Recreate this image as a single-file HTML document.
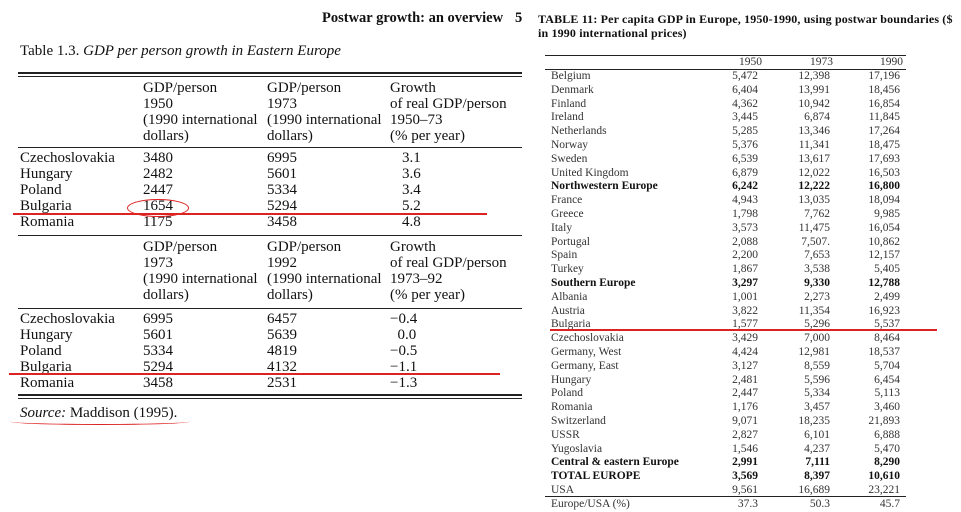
<!DOCTYPE html>
<html><head><meta charset="utf-8"><style>
body{margin:0;width:961px;height:509px;background:#fff;overflow:hidden;position:relative;font-family:"Liberation Serif",serif;color:#111}
.a{position:absolute;white-space:nowrap}
.L{font-size:15px;line-height:16px}
.r{position:absolute;background:#222}
.R{font-size:11.5px;line-height:13.8px;color:#333}
.n{position:absolute;text-align:right;width:60px}
b{font-weight:bold;color:#111}
</style></head><body>
<div class="a" style="left:322px;top:10px;font-size:14.5px;font-weight:bold">Postwar growth: an overview</div>
<div class="a" style="left:515px;top:10px;font-size:14.5px;font-weight:bold">5</div>
<div class="a" style="left:20px;top:43px;font-size:15px">Table 1.3. <i>GDP per person growth in Eastern Europe</i></div>
<div class="r" style="left:18px;top:72px;width:504px;height:2px"></div>
<div class="r" style="left:18px;top:76px;width:504px;height:1px"></div>
<div class="a L" style="left:143px;top:80px">GDP/person<br>1950<br>(1990 international<br>dollars)</div>
<div class="a L" style="left:267px;top:80px">GDP/person<br>1973<br>(1990 international<br>dollars)</div>
<div class="a L" style="left:390px;top:80px">Growth<br>of real GDP/person<br>1950–73<br>(% per year)</div>
<div class="r" style="left:18px;top:147px;width:504px;height:1px"></div>
<div class="a L" style="left:20px;top:150px">Czechoslovakia<br>Hungary<br>Poland<br>Bulgaria<br>Romania</div>
<div class="a L" style="left:143px;top:150px">3480<br>2482<br>2447<br>1654<br>1175</div>
<div class="a L" style="left:267px;top:150px">6995<br>5601<br>5334<br>5294<br>3458</div>
<div class="a L" style="left:402px;top:150px">3.1<br>3.6<br>3.4<br>5.2<br>4.8</div>
<div class="r" style="left:18px;top:235px;width:504px;height:1px"></div>
<div class="a L" style="left:143px;top:239px">GDP/person<br>1973<br>(1990 international<br>dollars)</div>
<div class="a L" style="left:267px;top:239px">GDP/person<br>1992<br>(1990 international<br>dollars)</div>
<div class="a L" style="left:390px;top:239px">Growth<br>of real GDP/person<br>1973–92<br>(% per year)</div>
<div class="r" style="left:18px;top:308px;width:504px;height:1px"></div>
<div class="a L" style="left:20px;top:311px">Czechoslovakia<br>Hungary<br>Poland<br>Bulgaria<br>Romania</div>
<div class="a L" style="left:143px;top:311px">6995<br>5601<br>5334<br>5294<br>3458</div>
<div class="a L" style="left:267px;top:311px">6457<br>5639<br>4819<br>4132<br>2531</div>
<div class="a L" style="left:390px;top:311px">−0.4<br>&nbsp;&nbsp;0.0<br>−0.5<br>−1.1<br>−1.3</div>
<div class="r" style="left:18px;top:394px;width:504px;height:2px"></div>
<div class="r" style="left:18px;top:398px;width:504px;height:1px"></div>
<div class="a" style="left:20px;top:405px;font-size:15px"><i>Source:</i> Maddison (1995).</div>
<div class="r" style="left:13px;top:213px;width:474px;height:2px;background:#d22"></div>
<div class="r" style="left:9px;top:373px;width:491px;height:2px;background:#d22"></div>
<div class="a" style="left:127px;top:199px;width:60px;height:16px;border:1px solid #d22;border-radius:50%"></div>
<div class="a" style="left:10px;top:418px;width:180px;height:6px;border-bottom:1px solid #d22;border-radius:0 0 50% 50%"></div>

<div class="a" style="left:538px;top:12px;font-size:12px;line-height:14px;font-weight:bold;letter-spacing:0.15px">TABLE 11: Per capita GDP in Europe, 1950-1990, using postwar boundaries ($<br>in 1990 international prices)</div>
<div class="r" style="left:545px;top:55px;width:361px;height:1px"></div>
<div class="r" style="left:545px;top:69px;width:361px;height:1px"></div>
<div class="a R" style="left:545px;top:56px;width:361px">
<span class="n" style="left:157px">1950</span><span class="n" style="left:228px">1973</span><span class="n" style="left:298px">1990</span></div>
<div class="a R" style="left:551px;top:70px">Belgium<br>Denmark<br>Finland<br>Ireland<br>Netherlands<br>Norway<br>Sweden<br>United Kingdom<br><b>Northwestern Europe</b><br>France<br>Greece<br>Italy<br>Portugal<br>Spain<br>Turkey<br><b>Southern Europe</b><br>Albania<br>Austria<br>Bulgaria<br>Czechoslovakia<br>Germany, West<br>Germany, East<br>Hungary<br>Poland<br>Romania<br>Switzerland<br>USSR<br>Yugoslavia<br><b>Central &amp; eastern Europe</b><br><b>TOTAL EUROPE</b><br>USA<br>Europe/USA (%)</div>
<div class="a R" style="left:698px;top:70px;width:60px;text-align:right">5,472<br>6,404<br>4,362<br>3,445<br>5,285<br>5,376<br>6,539<br>6,879<br><b>6,242</b><br>4,943<br>1,798<br>3,573<br>2,088<br>2,200<br>1,867<br><b>3,297</b><br>1,001<br>3,822<br>1,577<br>3,429<br>4,424<br>3,127<br>2,481<br>2,447<br>1,176<br>9,071<br>2,827<br>1,546<br><b>2,991</b><br><b>3,569</b><br>9,561<br>37.3</div>
<div class="a R" style="left:770px;top:70px;width:60px;text-align:right">12,398<br>13,991<br>10,942<br>6,874<br>13,346<br>11,341<br>13,617<br>12,022<br><b>12,222</b><br>13,035<br>7,762<br>11,475<br>7,507.<br>7,653<br>3,538<br><b>9,330</b><br>2,273<br>11,354<br>5,296<br>7,000<br>12,981<br>8,559<br>5,596<br>5,334<br>3,457<br>18,235<br>6,101<br>4,237<br><b>7,111</b><br><b>8,397</b><br>16,689<br>50.3</div>
<div class="a R" style="left:840px;top:70px;width:60px;text-align:right">17,196<br>18,456<br>16,854<br>11,845<br>17,264<br>18,475<br>17,693<br>16,503<br><b>16,800</b><br>18,094<br>9,985<br>16,054<br>10,862<br>12,157<br>5,405<br><b>12,788</b><br>2,499<br>16,923<br>5,537<br>8,464<br>18,537<br>5,704<br>6,454<br>5,113<br>3,460<br>21,893<br>6,888<br>5,470<br><b>8,290</b><br><b>10,610</b><br>23,221<br>45.7</div>
<div class="r" style="left:545px;top:496px;width:361px;height:1px"></div>
<div class="r" style="left:550px;top:329px;width:387px;height:2px;background:#d22"></div>
</body></html>
